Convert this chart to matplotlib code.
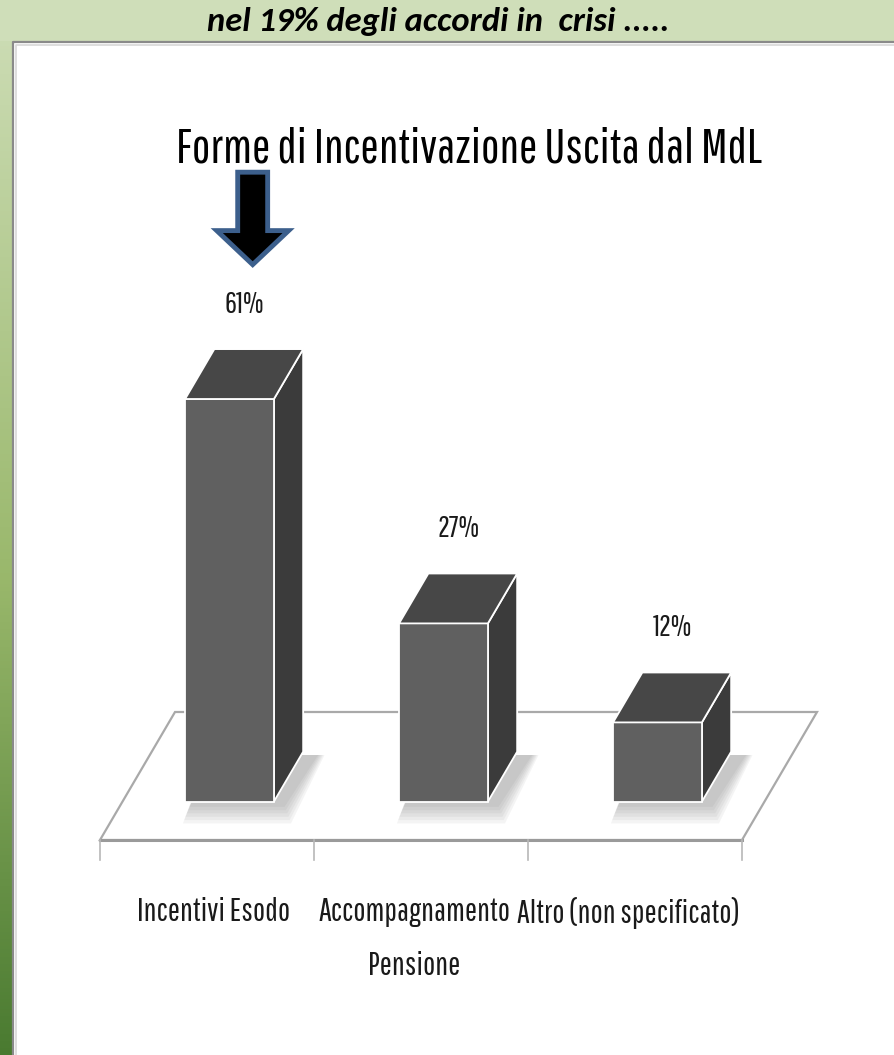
import numpy as np
import matplotlib.pyplot as plt
from matplotlib import font_manager as fm
from matplotlib.patches import Polygon, Rectangle, FancyArrow

# dati
categorie = ["Incentivi Esodo", "Accompagnamento\nPensione", "Altro (non specificato)"]
valori = [61, 27, 12]
etichette = ["61%", "27%", "12%"]

titolo = "Forme di Incentivazione Uscita dal MdL"
sottotitolo = "nel 19% degli accordi in  crisi ....."


def scegli(candidati):
    presenti = set(f.name for f in fm.fontManager.ttflist)
    for c in candidati:
        if c in presenti:
            return c
    return 'DejaVu Sans'


NARROW = scegli(['Pathway Gothic One', 'Fira Sans Extra Condensed', 'Barlow Condensed',
                 'Archivo Narrow', 'PT Sans Narrow', 'Roboto Condensed'])
CALIBRI = scegli(['Carlito', 'Lato', 'Open Sans'])

W, H = 894, 1055
fig = plt.figure(figsize=(W / 100, H / 100), dpi=100)

# sfondo verde a gradiente
bg = fig.add_axes([0, 0, 1, 1])
bg.set_axis_off()
t = np.linspace(0, 1, 300)[:, None]
c_top = np.array([0.81, 0.87, 0.72])
c_mid = np.array([0.60, 0.72, 0.42])
c_bot = np.array([0.29, 0.48, 0.19])
img = np.where(t < 0.55, c_top + (c_mid - c_top) * (t / 0.55),
               c_mid + (c_bot - c_mid) * ((t - 0.55) / 0.45))
img = np.repeat(img[:, None, :], 2, axis=1)
bg.imshow(img, aspect='auto', extent=[0, 1, 0, 1], origin='upper')
bg.set_xlim(0, 1)
bg.set_ylim(0, 1)
bg.add_patch(Rectangle((0, 1 - 41 / H), 1, 41 / H, color='#cfdeb9', lw=0))

# pannello bianco
px0, py0 = 13 / W, 1 - 42 / H
bg.add_patch(Rectangle((px0, 0), 1 - px0, py0, facecolor='white', lw=0))
bg.plot([px0, px0, 1], [0, py0, py0], color='#8a8a8a', lw=1.6)
bg.plot([px0 + 3 / W, px0 + 3 / W, 1], [0, py0 - 3 / H, py0 - 3 / H], color='#d8d8d8', lw=1.2)

t_sub = fig.text(438 / W, 1 - 21 / H, sottotitolo, ha='center', va='center',
                 fontsize=20, fontweight='bold', fontstyle='italic', family=CALIBRI)

# grafico 3D: unita x = categorie, unita y = percentuali
ax = fig.add_axes([0, 0, 1, 1])
ax.set_axis_off()
ax.patch.set_alpha(0)
sx, ox = 214.0, 207.0    # pixel per categoria, origine
sy, oy = 6.6, 840.0      # pixel per punto percentuale, base
ax.set_xlim(-ox / sx, (W - ox) / sx)
ax.set_ylim((oy - H) / sy, oy / sy)

n = len(valori)
D = np.array([75 / sx, 128 / sy])   # profondita del pavimento
floor = [(-0.5, 0), (n - 0.5, 0), (n - 0.5 + D[0], D[1]), (-0.5 + D[0], D[1])]
ax.add_patch(Polygon(floor, closed=True, facecolor='white', edgecolor='#a9a9a9', lw=1.6, zorder=1))
ax.plot([-0.5, n - 0.5], [0, 0], color='#9a9a9a', lw=2.2, zorder=2)
for k in range(n + 1):
    ax.plot([k - 0.5, k - 0.5], [0, -20 / sy], color='#b8b8b8', lw=1.2, zorder=2)

w = 0.415
base = 0.3 * D
dep = 0.39 * D
spost = [0.03, -0.03, -0.03]   # piccolo spostamento delle etichette di categoria
t_val = []
t_cat = []
for i, v in enumerate(valori):
    L = i + base[0] - w / 2
    R = L + w
    B = base[1]
    T = B + v
    # ombra
    for s in range(6):
        e = 0.006 * s
        ax.add_patch(Polygon([(L - e + 0.02, B - 0.8 - s * 0.5), (R + e + 0.05, B - 0.8 - s * 0.5),
                              (R + dep[0] + e + 0.07, B + dep[1] - 0.5),
                              (L + dep[0] - e, B + dep[1] - 0.5)],
                             closed=True, facecolor='#505050', alpha=0.06, lw=0, zorder=3))
    ax.add_patch(Polygon([(L, B), (R, B), (R, T), (L, T)], closed=True,
                         facecolor='#606060', edgecolor='white', lw=1.3, zorder=5))
    ax.add_patch(Polygon([(L, T), (R, T), (R + dep[0], T + dep[1]), (L + dep[0], T + dep[1])],
                         closed=True, facecolor='#474747', edgecolor='white', lw=1.3, zorder=5))
    ax.add_patch(Polygon([(R, B), (R + dep[0], B + dep[1]), (R + dep[0], T + dep[1]), (R, T)],
                         closed=True, facecolor='#3b3b3b', edgecolor='white', lw=1.3, zorder=4))
    t_val.append(ax.text(i + base[0] + dep[0] / 2, T + dep[1] + 6.8, etichette[i], ha='center',
                         va='center', fontsize=17, family=NARROW, color='#1a1a1a', zorder=6))
    t_cat.append(ax.text(i + spost[i], -8.6, categorie[i], ha='center', va='top', fontsize=16.5,
                         linespacing=2.0, family=NARROW, color='#1a1a1a'))

# freccia sulla prima barra
ax_x = base[0] + dep[0] / 2 + 0.04
tip = valori[0] + base[1] + dep[1] + 6.8 + 6.0
ax.add_patch(FancyArrow(ax_x, tip + 14.0, 0, -14.0, width=0.14, head_width=0.336,
                        head_length=5.15, length_includes_head=True,
                        facecolor='black', edgecolor='#3c5f8c', lw=3.5, joinstyle='miter', zorder=7))

t_tit = fig.text(469 / W, 1 - 149 / H, titolo, ha='center', va='center', fontsize=41,
                 family=NARROW, color='black')

# adatta le dimensioni dei testi alla larghezza dell'originale
fig.canvas.draw()
r = fig.canvas.get_renderer()


def adatta(txt, larghezza):
    wpx = txt.get_window_extent(r).width
    return txt.get_fontsize() * larghezza / wpx


t_sub.set_fontsize(adatta(t_sub, 461))
t_tit.set_fontsize(adatta(t_tit, 585))
fs_val = adatta(t_val[1], 42)
for tv in t_val:
    tv.set_fontsize(fs_val)
fs_cat = adatta(t_cat[2], 222)
for tc in t_cat:
    tc.set_fontsize(fs_cat)

fig.savefig('out.png', dpi=100)
